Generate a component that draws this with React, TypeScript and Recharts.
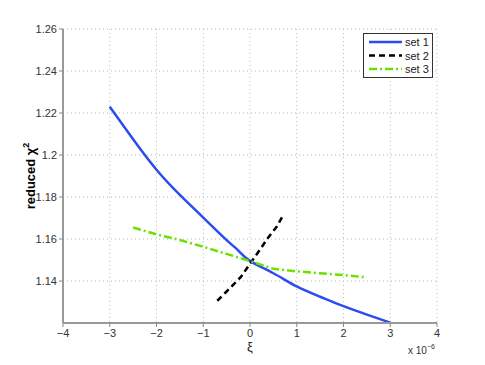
import { LineChart, Line, XAxis, YAxis, CartesianGrid } from 'recharts';

// values (x in units of 1e-6)
const set1X = [-3, -2.5, -2, -1.5, -1, -0.5, -0.25, 0, 0.5, 1, 1.5, 2, 2.5, 3];
const set1Y = [1.223, 1.2075, 1.193, 1.181, 1.1702, 1.1595, 1.1545, 1.1496, 1.1437, 1.1374, 1.1325, 1.128, 1.124, 1.1202];

const set2X = [-0.7, -0.5, -0.2, 0, 0.2, 0.4, 0.57, 0.71];
const set2Y = [1.1306, 1.135, 1.1418, 1.1482, 1.1545, 1.161, 1.1658, 1.1714];

const set3X = [-2.5, -2, -1.5, -1, -0.5, 0, 0.5, 1, 1.5, 2, 2.5];
const set3Y = [1.1655, 1.1622, 1.1595, 1.1563, 1.1529, 1.1495, 1.1458, 1.1446, 1.1437, 1.1428, 1.1417];

const xTicks = [-4, -3, -2, -1, 0, 1, 2, 3, 4];
const yTicks = [1.14, 1.16, 1.18, 1.2, 1.22, 1.24, 1.26];

const seriesNames = ['set 1', 'set 2', 'set 3'];

const toPoints = (xs: number[], ys: number[]) => xs.map((x, i) => ({ x, y: ys[i] }));

const FONT = '"Liberation Sans", Arial, sans-serif';
const BLUE = '#2b4cf0';
const BLACK = '#000000';
const GREEN = '#6ee000';

const fmtMinus = (v: number) => String(v).replace('-', '\u2212');

function LegendBox() {
  const rows = [
    { name: seriesNames[0], color: BLUE, dash: undefined, w: 2.5 },
    { name: seriesNames[1], color: BLACK, dash: '6 4', w: 2.5 },
    { name: seriesNames[2], color: GREEN, dash: '8 3 2 3', w: 2.5 },
  ];
  return (
    <svg width={70} height={45} style={{ display: 'block' }}>
      <rect x={0.5} y={0.5} width={69} height={44} fill="#fff" stroke="#333" strokeWidth={1} />
      {rows.map((r, i) => (
        <g key={r.name}>
          <line x1={6} x2={39} y1={9 + i * 13.5} y2={9 + i * 13.5} stroke={r.color} strokeWidth={r.w} strokeDasharray={r.dash} />
          <text x={42} y={13 + i * 13.5} fontSize={11} fontFamily={FONT} fill="#222">{r.name}</text>
        </g>
      ))}
    </svg>
  );
}

function XLabel(props: any) {
  const vb = props.viewBox || { x: 63, y: 323, width: 374, height: 0 };
  const cx = vb.x + vb.width / 2;
  const right = vb.x + vb.width;
  return (
    <g fontFamily={FONT}>
      <text x={cx} y={vb.y + 28} fontSize={13} textAnchor="middle" fill="#222">ξ</text>
      <text x={right - 29} y={vb.y + 31} fontSize={10} fill="#333">
        x 10<tspan dy={-5} fontSize={7}>−6</tspan>
      </text>
    </g>
  );
}

function YLabel(props: any) {
  const vb = props.viewBox || { x: 0, y: 29, width: 63, height: 294 };
  const cy = vb.y + vb.height / 2;
  const x = 35;
  return (
    <text x={x} y={cy} transform={`rotate(-90 ${x} ${cy})`} textAnchor="middle" fontFamily={FONT} fontSize={13} fontWeight="bold" fill="#000">
      reduced χ<tspan dy={-6} fontSize={9}>2</tspan>
    </text>
  );
}

export default function App() {
  return (
    <div style={{ position: 'absolute', left: 0, top: 0, width: 485, height: 365, background: '#fff' }}>
      <LineChart width={485} height={365} margin={{ top: 29, right: 48, left: 0, bottom: 0 }}>
        <CartesianGrid stroke="#bbb" strokeDasharray="1 3" vertical horizontal />
        <XAxis
          dataKey="x"
          type="number"
          domain={[-4, 4]}
          ticks={xTicks}
          tickFormatter={fmtMinus}
          height={42}
          tick={{ fontFamily: FONT, fontSize: 11, fill: '#333' }}
          tickLine={{ stroke: '#888' }}
          tickSize={4}
          axisLine={{ stroke: '#999', strokeWidth: 2 }}
          allowDuplicatedCategory={false}
          label={<XLabel />}
        />
        <YAxis
          dataKey="y"
          type="number"
          domain={[1.12, 1.26]}
          ticks={yTicks}
          width={63}
          tick={{ fontFamily: FONT, fontSize: 11, fill: '#333' }}
          tickLine={{ stroke: '#888' }}
          tickSize={4}
          axisLine={{ stroke: '#999', strokeWidth: 2 }}
          label={<YLabel />}
        />
        <Line
          data={toPoints(set1X, set1Y)}
          dataKey="y"
          name={seriesNames[0]}
          type="natural"
          stroke={BLUE}
          strokeWidth={2.5}
          dot={false}
          activeDot={false}
          isAnimationActive={false}
        />
        <Line
          data={toPoints(set2X, set2Y)}
          dataKey="y"
          name={seriesNames[1]}
          type="linear"
          stroke={BLACK}
          strokeWidth={2.5}
          strokeDasharray="6 4"
          dot={false}
          activeDot={false}
          isAnimationActive={false}
        />
        <Line
          data={toPoints(set3X, set3Y)}
          dataKey="y"
          name={seriesNames[2]}
          type="linear"
          stroke={GREEN}
          strokeWidth={2.5}
          strokeDasharray="8 3 2 3"
          dot={false}
          activeDot={false}
          isAnimationActive={false}
        />
      </LineChart>
      <div style={{ position: 'absolute', left: 363, top: 33 }}>
        <LegendBox />
      </div>
    </div>
  );
}
